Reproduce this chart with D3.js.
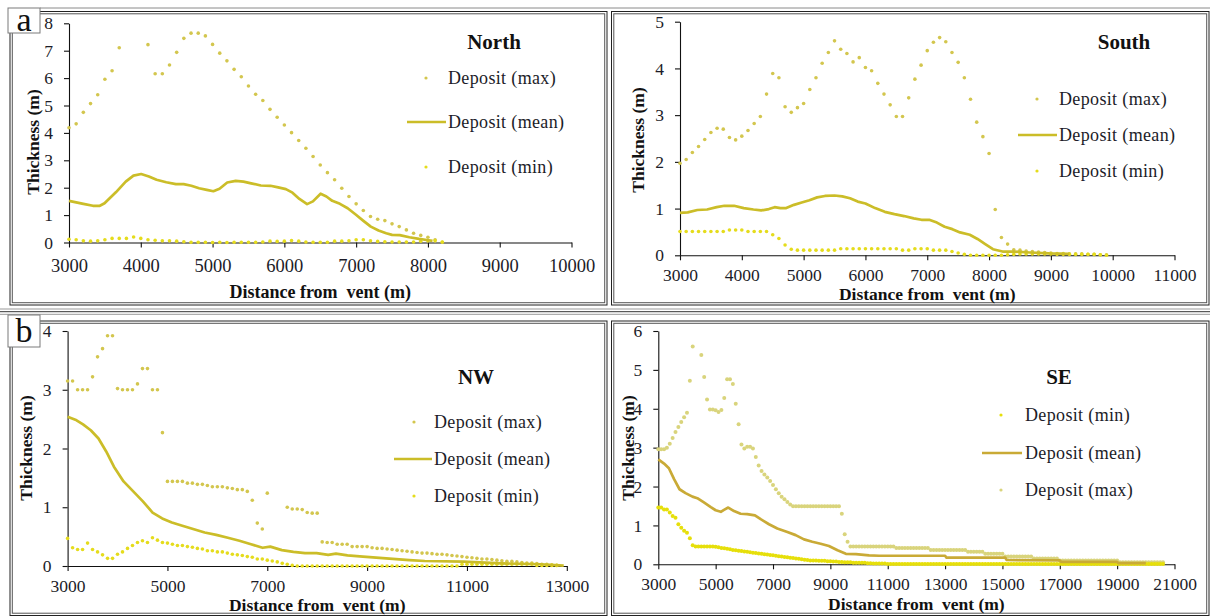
<!DOCTYPE html>
<html><head><meta charset="utf-8">
<script src="https://cdn.jsdelivr.net/npm/d3@7"></script>
<style>body{margin:0;background:#fff}svg{display:block}</style>
</head><body>
<svg id="c" width="1210" height="616"></svg>
<script>
// ---------- DATA ----------
const STEP = 100; // sampling interval of point series (m)

// North
const northMaxStart = 3000;
const northMax = [4.19,4.33,4.75,5.07,5.39,5.96,6.27,7.11,null,null,
  null,7.22,6.16,6.16,6.48,6.94,7.45,7.64,7.64,7.54,
  7.23,6.91,6.63,6.32,6.05,5.71,5.41,5.18,4.86,4.57,
  4.29,4.01,3.72,3.44,3.14,2.83,2.55,2.29,1.98,1.68,
  1.41,1.17,0.95,0.85,0.80,0.68,0.58,0.46,0.34,0.26,
  0.19,0.10,0.01];
const northMinStart = 3000;
const northMin = [0.12,0.10,0.06,0.05,0.06,0.10,0.15,0.15,0.15,0.20,
  0.15,0.10,0.08,0.06,0.06,0.05,0.03,0.01,0.01,0.01,
  0.00,0.01,0.00,0.01,0.01,0.01,0.01,0.02,0.05,0.04,
  0.05,0.07,0.05,0.02,0.01,0.01,0.01,0.05,0.05,0.06,
  0.10,0.10,0.06,0.04,0.03,0.02,0.02,0.02,0.02,0.05,
  0.06,0.06,0.02];
const northMean = [[3000,1.52],[3200,1.41],[3333,1.34],[3430,1.34],[3495,1.43],[3656,1.84],[3790,2.22],[3898,2.44],[4005,2.50],[4113,2.41],[4220,2.29],[4355,2.20],[4489,2.13],[4597,2.13],[4704,2.07],[4812,1.98],[4919,1.92],[5011,1.87],[5097,1.96],[5204,2.19],[5322,2.25],[5430,2.22],[5537,2.16],[5672,2.08],[5806,2.07],[5914,2.01],[6021,1.95],[6113,1.82],[6210,1.59],[6317,1.40],[6398,1.50],[6505,1.78],[6586,1.68],[6667,1.52],[6774,1.41],[6882,1.25],[6989,1.03],[7097,0.80],[7204,0.58],[7312,0.44],[7419,0.34],[7500,0.28],[7607,0.27],[7742,0.19],[7876,0.13],[7984,0.09],[8064,0.06]];

// South
const southMaxStart = 3000;
const southMax = [1.97,2.05,2.20,2.33,2.48,2.63,2.72,2.70,2.52,2.47,
  2.55,2.67,2.82,2.97,3.45,3.89,3.80,3.18,3.06,3.16,
  3.25,3.55,3.80,4.11,4.34,4.59,4.41,4.32,4.14,4.23,
  4.02,3.95,3.68,3.45,3.22,2.97,2.97,3.37,3.77,4.07,
  4.38,4.56,4.66,4.57,4.34,4.13,3.80,3.34,2.85,2.54,
  2.18,0.98,0.38,0.24,0.12,0.11,0.09,0.08,0.07,0.06,
  0.05,0.04,0.04,0.03,0.03,0.03,0.02,0.02,0.01,0.01];
const southMinStart = 3000;
const southMin = [0.51,0.51,0.51,0.51,0.51,0.51,0.51,0.51,0.54,0.54,
  0.54,0.51,0.51,0.51,0.51,0.44,0.36,0.22,0.13,0.11,
  0.11,0.11,0.11,0.11,0.11,0.11,0.14,0.14,0.14,0.14,
  0.14,0.14,0.14,0.14,0.14,0.14,0.11,0.11,0.14,0.14,
  0.14,0.11,0.11,0.11,0.08,0.05,0.02,0.00,0.00,0.00,
  0.00,0.00,0.00,0.01,0.02,0.03,0.03,0.03,0.03,0.03,
  0.03,0.02,0.02,0.02,0.02,0.02,0.02,0.02,0.01,0.00];
const southMean = [[3000,0.91],[3125,0.92],[3281,0.97],[3438,0.98],[3594,1.03],[3719,1.06],[3875,1.06],[4031,1.01],[4188,0.98],[4313,0.96],[4438,0.99],[4531,1.03],[4625,1.01],[4719,1.01],[4844,1.08],[4969,1.13],[5094,1.18],[5219,1.24],[5344,1.27],[5500,1.28],[5625,1.26],[5750,1.22],[5875,1.15],[6000,1.11],[6156,1.01],[6313,0.93],[6469,0.88],[6625,0.84],[6781,0.79],[6906,0.76],[7031,0.76],[7156,0.70],[7281,0.61],[7406,0.56],[7531,0.49],[7688,0.44],[7813,0.35],[7938,0.24],[8063,0.13],[8219,0.08],[8406,0.08],[8656,0.06],[8969,0.04],[9300,0.03]];

// NW
const nwMaxStart = 3000;
const nwMax = [3.15,3.15,3.00,3.00,3.00,3.22,3.56,3.70,3.92,3.92,
  3.02,3.00,3.00,3.00,3.10,3.36,3.36,3.00,3.00,2.27,
  1.44,1.44,1.44,1.44,1.41,1.41,1.39,1.39,1.37,1.35,
  1.35,1.35,1.33,1.32,1.30,1.30,1.27,1.12,0.73,0.63,
  1.24,null,null,null,1.00,0.97,0.97,0.96,0.91,0.90,
  0.90,0.41,0.40,0.40,0.37,0.37,0.37,0.33,0.33,0.33,
  0.33,0.31,0.30,0.30,0.29,0.28,0.27,0.26,0.25,0.24,
  0.23,0.22,0.22,0.21,0.20,0.20,0.19,0.18,0.17,0.16,
  0.15,0.14,0.13,0.12,0.12,0.11,0.10,0.09,0.08,0.08,
  0.07,0.06,0.05,0.05,0.04,0.03,0.03,0.02,0.01];
const nwMinStart = 3000;
const nwMin = [0.47,0.31,0.28,0.28,0.39,0.28,0.24,0.19,0.13,0.13,
  0.20,0.24,0.30,0.35,0.40,0.43,0.40,0.48,0.44,0.40,
  0.39,0.37,0.35,0.35,0.33,0.32,0.30,0.29,0.26,0.26,
  0.24,0.24,0.22,0.20,0.19,0.18,0.16,0.15,0.12,0.12,
  0.10,0.085,0.07,0.045,0.03,0.01,0,0,0,0,
  0,0,0,0,0,0,0,0,0,0,
  0,0,0,0,0,0,0,0,0,0,
  0,0,0,0,0,0,0,0,0,0.03,
  0.03,0.03,0.03,0.03,0.03,0.03,0.03,0.03,0.03,0.03,
  0.03,0.03,0.03,0.03,0.01,0.01,0.01,0.01,0.01];
const nwMean = [[3000,2.54],[3155,2.49],[3309,2.41],[3464,2.31],[3619,2.17],[3773,1.95],[3928,1.69],[4121,1.44],[4315,1.27],[4508,1.10],[4702,0.91],[4895,0.81],[5088,0.74],[5282,0.69],[5514,0.63],[5746,0.57],[5978,0.53],[6210,0.48],[6442,0.43],[6674,0.37],[6906,0.31],[7060,0.33],[7292,0.27],[7524,0.24],[7756,0.22],[7988,0.22],[8220,0.19],[8375,0.21],[8607,0.18],[8917,0.16],[9381,0.13],[9845,0.10],[10154,0.085],[10927,0.074],[11700,0.045],[12474,0.03],[12938,0.005]];

// SE
const seMaxStart = 3000;
const seMax = [2.96,2.96,2.96,3.00,3.10,3.25,3.40,3.53,3.66,3.78,
  3.90,4.72,5.60,null,null,5.38,4.82,4.24,3.98,3.98,
  3.96,3.92,3.97,4.28,4.76,4.76,4.64,4.13,3.60,3.08,
  2.98,3.02,3.02,2.98,2.76,2.54,2.40,2.31,2.23,2.14,
  2.04,1.93,1.83,1.74,1.67,1.60,1.54,1.49,1.49,1.49,
  1.49,1.49,1.49,1.49,1.49,1.49,1.49,1.49,1.49,1.49,
  1.49,1.49,1.49,1.49,1.30,0.77,0.58,0.46,0.46,0.46,
  0.46,0.46,0.46,0.46,0.46,0.46,0.46,0.46,0.46,0.46,
  0.46,0.46,0.46,0.42,0.42,0.42,0.42,0.42,0.42,0.42,
  0.42,0.42,0.42,0.42,0.42,0.37,0.37,0.37,0.37,0.37,
  0.37,0.37,0.37,0.37,0.37,0.37,0.37,0.37,0.32,0.32,
  0.32,0.32,0.32,0.32,0.27,0.27,0.27,0.27,0.27,0.27,
  0.27,0.20,0.20,0.20,0.20,0.20,0.20,0.20,0.20,0.20,
  0.20,0.15,0.15,0.15,0.15,0.15,0.15,0.15,0.15,0.15,
  0.10,0.10,0.10,0.10,0.10,0.10,0.10,0.10,0.10,0.10,
  0.10,0.10,0.10,0.10,0.10,0.10,0.10,0.10,0.10,0.10,
  0.10,0.05,0.05,0.05,0.05,0.05,0.05,0.05,0.05,0.05,
  0.05,0.05,0.05,0.05,0.05,0.05,0.05];
const seMinStart = 3000;
const seMin = [1.46,1.46,1.41,1.41,1.33,1.24,1.20,1.03,0.94,0.86,
  0.81,0.67,0.49,0.46,0.46,0.46,0.46,0.46,0.46,0.46,
  0.45,0.44,0.42,0.41,0.40,0.39,0.37,0.36,0.35,0.34,
  0.33,0.32,0.31,0.30,0.29,0.28,0.27,0.26,0.25,0.24,
  0.23,0.22,0.21,0.20,0.19,0.18,0.17,0.16,0.15,0.14,
  0.13,0.12,0.11,0.10,0.10,0.10,0.09,0.09,0.09,0.08,
  0.08,0.07,0.07,0.06,0.06,0.05,0.05,0.05,0.04,0.04,
  0.04,0.04,0.04,0.03,0.03,0.02,0.02,0.02,0.02,0.02,
  0.01,0.01,0.01,0.01,0.01,0.01,0.01,0.01,0.01,0.01,
  0.01,0.01,0.01,0.01,0.01,0.01,0.01,0.01,0.01,0.01,
  0.01,0.01,0.01,0.01,0.01,0.01,0.01,0.01,0.01,0.01,
  0.01,0.01,0.01,0.01,0.01,0.01,0.01,0.01,0.01,0.01,
  0.01,0.01,0.01,0.01,0.01,0.01,0.01,0.01,0.01,0.01,
  0.01,0.01,0.01,0.01,0.01,0.01,0.01,0.01,0.01,0.01,
  0.01,0.01,0.01,0.01,0.01,0.01,0.01,0.01,0.01,0.01,
  0.01,0.01,0.01,0.01,0.01,0.01,0.01,0.01,0.01,0.01,
  0.01,0.01,0.01,0.01,0.01,0.01,0.01,0.01,0.01,0.01,
  0.01,0.01,0.01,0.01,0.01,0.01,0.01];
const seMean = [[3000,2.70],[3200,2.59],[3370,2.47],[3550,2.19],[3740,1.93],[3950,1.83],[4190,1.74],[4360,1.70],[4590,1.59],[4830,1.47],[5000,1.39],[5180,1.35],[5290,1.40],[5440,1.46],[5640,1.37],[5870,1.30],[6100,1.29],[6370,1.26],[6570,1.16],[6860,1.03],[7150,0.92],[7500,0.83],[7790,0.75],[8080,0.64],[8370,0.58],[8660,0.53],[8950,0.47],[9250,0.36],[9540,0.27],[9890,0.26],[10350,0.23],[10700,0.22],[13000,0.22],[13050,0.17],[15100,0.17],[15150,0.11],[17000,0.10],[17050,0.06],[19000,0.06],[19050,0.03],[20000,0.03]];

// tick values & labels
const northXTicks = [3000,4000,5000,6000,7000,8000,9000,10000];
const northYTicks = [0,1,2,3,4,5,6,7,8];
const southXTicks = [3000,4000,5000,6000,7000,8000,9000,10000,11000];
const southYTicks = [0,1,2,3,4,5];
const nwXTicks = [3000,5000,7000,9000,11000,13000];
const nwYTicks = [0,1,2,3,4];
const seXTicks = [3000,5000,7000,9000,11000,13000,15000,17000,19000,21000];
const seYTicks = [0,1,2,3,4,5,6];
const xTitle = "Distance from  vent (m)";
const yTitle = "Thickness (m)";
const labelMax = "Deposit (max)", labelMean = "Deposit (mean)", labelMin = "Deposit (min)";

// ---------- LAYOUT / STYLE ----------
const FONT = "'Liberation Serif','Times New Roman',serif";
const std = {max:"#d3c64e", mean:"#cbbd28", min:"#e5dc1c"};
const seCol = {max:"#d9d47c", mean:"#c9aa36", min:"#e6df0a"};

const panels = [
  {title:"North", xDomain:[3000,10000], yDomain:[0,8], xr:[69,571.5], yr:[242.5,23.3],
   xTicks:northXTicks, yTicks:northYTicks, frame:[10,11.5,607,305],
   tickBase:29.5, tickFs:18.5, titleBase:55.5, titleFs:18, yTitleX:33, yTitleY:142, r:1.8,
   maxStart:northMaxStart, max:northMax, minStart:northMinStart, min:northMin, mean:northMean, col:std,
   hdr:[494,42], leg:{mk:426, l0:407, l1:446, tx:448, rows:[78,122,167]}, order:["max","mean","min"]},
  {title:"South", xDomain:[3000,11000], yDomain:[0,5], xr:[680,1174.5], yr:[255.3,21.7],
   xTicks:southXTicks, yTicks:southYTicks, frame:[611.5,11.5,1209,305],
   tickBase:26, tickFs:17.5, titleBase:45, titleFs:17.5, yTitleX:638, yTitleY:140, r:1.8,
   maxStart:southMaxStart, max:southMax, minStart:southMinStart, min:southMin, mean:southMean, col:std,
   hdr:[1124,42], leg:{mk:1037, l0:1018, l1:1057, tx:1059, rows:[99,135,171]}, order:["max","mean","min"]},
  {title:"NW", xDomain:[3000,13000], yDomain:[0,4], xr:[67.6,566.8], yr:[566,331],
   xTicks:nwXTicks, yTicks:nwYTicks, frame:[10,321,607,615.5],
   tickBase:26, tickFs:17.5, titleBase:45, titleFs:17.5, yTitleX:26, yTitleY:448, r:1.8,
   maxStart:nwMaxStart, max:nwMax, minStart:nwMinStart, min:nwMin, mean:nwMean, col:std,
   hdr:[476,377], leg:{mk:414, l0:394, l1:432, tx:434, rows:[422,459,496]}, order:["max","mean","min"]},
  {title:"SE", xDomain:[3000,21000], yDomain:[0,6], xr:[658.3,1174.5], yr:[564.3,331],
   xTicks:seXTicks, yTicks:seYTicks, frame:[611.5,321,1209,615.5],
   tickBase:26, tickFs:17.5, titleBase:45.5, titleFs:17.5, yTitleX:628, yTitleY:448, r:2.0,
   maxStart:seMaxStart, max:seMax, minStart:seMinStart, min:seMin, mean:seMean, col:seCol,
   hdr:[1059,377], leg:{mk:1001, l0:982, l1:1022, tx:1025, rows:[415,453,490]}, order:["min","mean","max"]}
];

const svg = d3.select("#c");

// figure frames
svg.append("line").attr("x1",40).attr("x2",1210).attr("y1",8).attr("y2",8).attr("stroke","#8a8a8a");
[[309,"#999"],[311.7,"#333"],[314.3,"#999"]].forEach(([y,c]) =>
  svg.append("line").attr("x1",0).attr("x2",1210).attr("y1",y).attr("y2",y).attr("stroke",c));

const seq = (start, vals) => vals.map((v,i)=>({x:start+i*STEP, y:v})).filter(d=>d.y!==null);

panels.forEach(p => {
  const [fx0,fy0,fx1,fy1] = p.frame;
  svg.append("rect").attr("x",fx0).attr("y",fy0).attr("width",fx1-fx0).attr("height",fy1-fy0)
    .attr("fill","none").attr("stroke","#222").attr("stroke-width",1);
  svg.append("rect").attr("x",fx0+2.3).attr("y",fy0+2.3).attr("width",fx1-fx0-4.6).attr("height",fy1-fy0-4.6)
    .attr("fill","none").attr("stroke","#555").attr("stroke-width",1);

  const x = d3.scaleLinear().domain(p.xDomain).range(p.xr);
  const y = d3.scaleLinear().domain(p.yDomain).range(p.yr);
  const g = svg.append("g");

  // axes
  const xa = g.append("g").attr("transform",`translate(0,${p.yr[0]})`)
    .call(d3.axisBottom(x).tickValues(p.xTicks).tickFormat(d3.format("d")).tickSizeInner(5).tickSizeOuter(0).tickPadding(p.tickBase-5-0.71*p.tickFs));
  const ya = g.append("g").attr("transform",`translate(${p.xr[0]},0)`)
    .call(d3.axisLeft(y).tickValues(p.yTicks).tickFormat(d3.format("d")).tickSizeInner(5).tickSizeOuter(0).tickPadding(11));
  [xa,ya].forEach(a => {
    a.selectAll("path,line").attr("stroke","#111").attr("stroke-width",1.1);
    a.selectAll("text").attr("fill","#1c1c28").style("font-family",FONT);
  });
  xa.selectAll("text").style("font-size",p.tickFs+"px");
  ya.selectAll("text").style("font-size","17.5px");

  // axis titles
  g.append("text").attr("x",(p.xr[0]+p.xr[1])/2).attr("y",p.yr[0]+p.titleBase)
    .attr("text-anchor","middle").style("font-family",FONT).style("font-size",p.titleFs+"px")
    .style("font-weight","bold").style("white-space","pre").attr("fill","#111").text(xTitle);
  g.append("text").attr("transform",`translate(${p.yTitleX},${p.yTitleY}) rotate(-90)`)
    .attr("text-anchor","middle").attr("dy","0.35em").style("font-family",FONT).style("font-size","17.5px")
    .style("font-weight","bold").attr("fill","#111").text(yTitle);

  // data
  g.append("g").selectAll("circle").data(seq(p.maxStart,p.max)).join("circle")
    .attr("cx",d=>x(d.x)).attr("cy",d=>y(d.y)).attr("r",p.r).attr("fill",p.col.max);
  g.append("g").selectAll("circle").data(seq(p.minStart,p.min)).join("circle")
    .attr("cx",d=>x(d.x)).attr("cy",d=>y(d.y)).attr("r",p.r).attr("fill",p.col.min);
  g.append("path").datum(p.mean).attr("fill","none").attr("stroke",p.col.mean).attr("stroke-width",2.7)
    .attr("stroke-linejoin","round").attr("d",d3.line().x(d=>x(d[0])).y(d=>y(d[1])));

  // panel title
  g.append("text").attr("x",p.hdr[0]).attr("y",p.hdr[1]).attr("dy","0.35em").attr("text-anchor","middle")
    .style("font-family",FONT).style("font-size","21px").style("font-weight","bold").attr("fill","#111").text(p.title);

  // legend
  const labels = {max:labelMax, mean:labelMean, min:labelMin};
  p.order.forEach((k,i) => {
    const ry = p.leg.rows[i];
    if (k==="mean") {
      g.append("line").attr("x1",p.leg.l0).attr("x2",p.leg.l1).attr("y1",ry).attr("y2",ry)
        .attr("stroke",p.col.mean).attr("stroke-width",2.7);
    } else {
      g.append("circle").attr("cx",p.leg.mk).attr("cy",ry).attr("r",1.6).attr("fill",p.col[k]);
    }
    g.append("text").attr("x",p.leg.tx).attr("y",ry).attr("dy","0.33em")
      .style("font-family",FONT).style("font-size","18px").style("letter-spacing","0.35px")
      .attr("fill","#1c1c28").text(labels[k]);
  });
});

// part labels
[["a",8,8,32,25,31],["b",8,315,32,32,342]].forEach(([t,bx,by,bw,bh,base]) => {
  svg.append("rect").attr("x",bx).attr("y",by).attr("width",bw).attr("height",bh)
    .attr("fill","#fff").attr("stroke","#7a7a7a").attr("stroke-width",1);
  svg.append("text").attr("x",bx+bw/2).attr("y",base).attr("text-anchor","middle")
    .style("font-family",FONT).style("font-size","34px").attr("fill","#111").text(t);
});
</script>
</body></html>
